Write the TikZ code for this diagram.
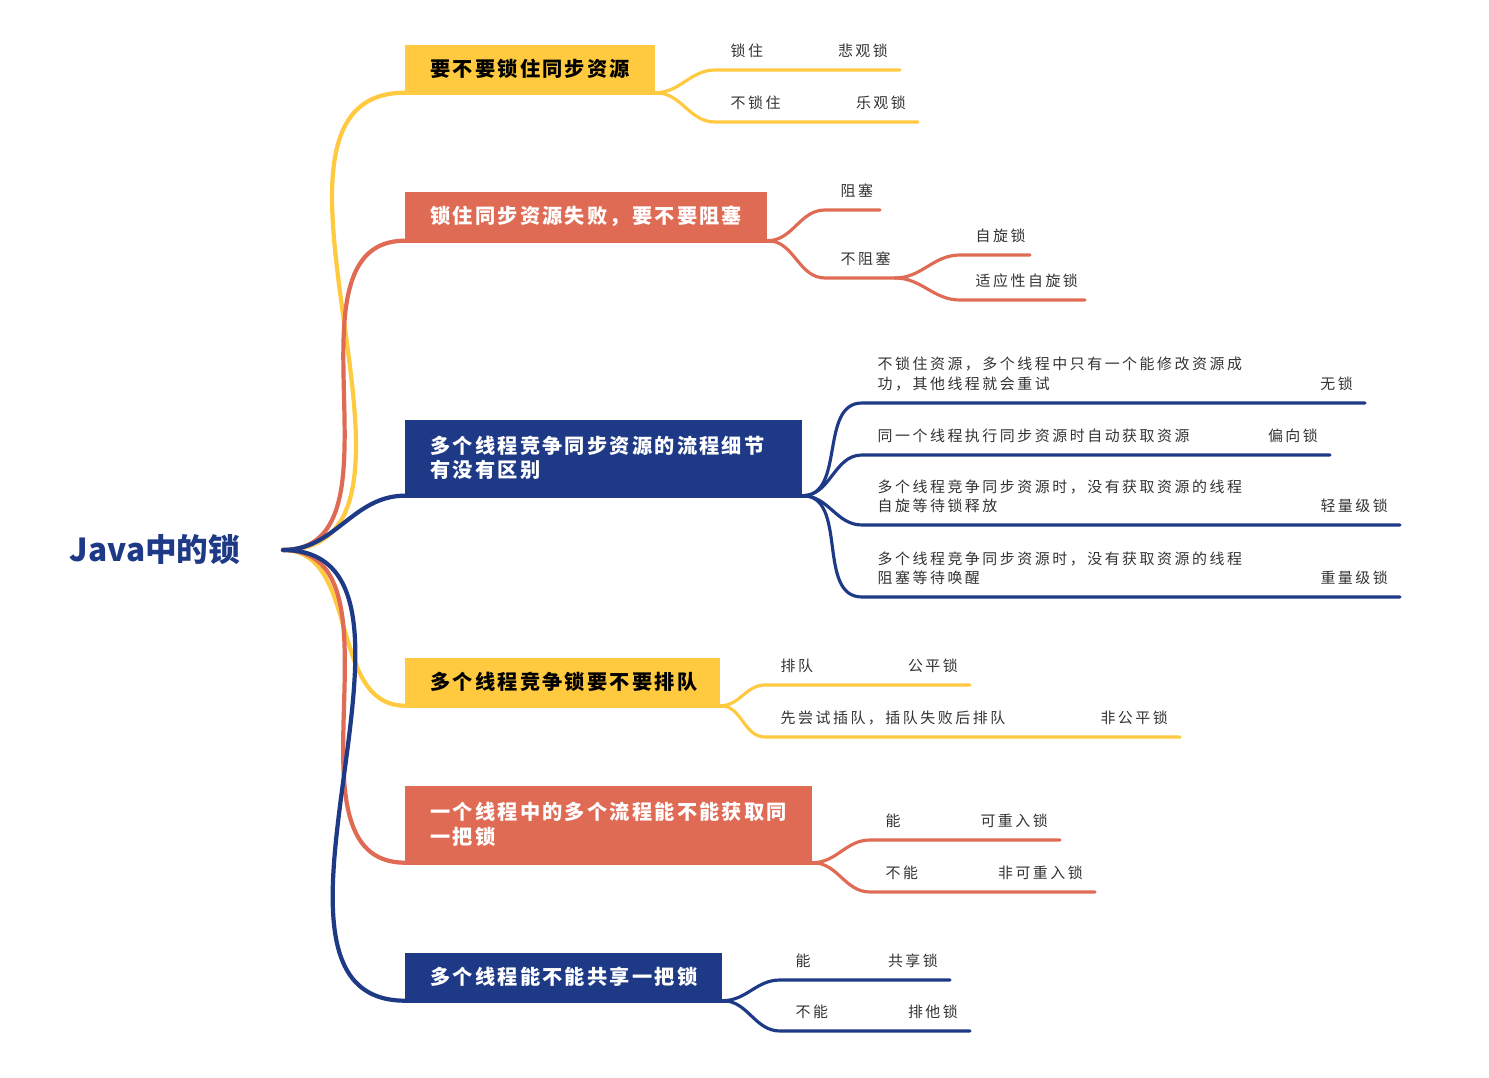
\documentclass[tikz,border=0pt]{standalone}
\usepackage{fontspec}
\setmainfont{Noto Sans CJK SC}
\newfontfamily\leaffont[LetterSpace=17]{Noto Sans CJK SC}
\newfontfamily\boxfont[LetterSpace=11]{Noto Sans CJK SC}
\usepackage{xcolor}
\usepackage{tikz}
\usetikzlibrary{positioning}

\definecolor{lockyellow}{HTML}{FFC940}
\definecolor{lockred}{HTML}{E06B55}
\definecolor{locknavy}{HTML}{1E3A86}
\definecolor{leafgray}{HTML}{333333}

\tikzset{
  branch/.style={line width=2.4pt, line cap=round},
  twig/.style={line width=1.8pt, line cap=round},
  box/.style={anchor=north west, inner xsep=0.5cm, inner ysep=0pt, align=left, font=\boxfont\bfseries\fontsize{11.5}{14}\selectfont},
  leaftxt/.style={font=\leaffont\fontsize{8.5}{11}\selectfont, text=leafgray, align=left, inner sep=2pt}
}

% #1 colour, #2 start, #3 name, #4 x start, #5 y, #6 x mid, #7 x end, #8 left text, #9 right text
\newcommand{\lockleaf}[9]{%
  \coordinate (#3a) at (#4,#5);
  \coordinate (#3b) at (#6,#5);
  \coordinate (#3c) at (#7,#5);
  \draw[twig, #1] (#2) to[out=0,in=180] (#3a)
     -- node[leaftxt, pos=0, above right, xshift=6pt, yshift=4pt] {#8} (#3b)
     -- node[leaftxt, pos=1, above left, xshift=-4pt, yshift=4pt] {#9} (#3c);
}

\begin{document}
\begin{tikzpicture}[x=0.02cm, y=-0.02cm]
  \useasboundingbox (0,0) rectangle (1489,1078);

  \node[font=\bfseries\fontsize{18}{20}\selectfont, text=locknavy] (root) at (155,550) {Java中的锁};
  \coordinate (hub) at (283,550);

  % main boxes
  \node[box, fill=lockyellow, text=black, minimum width=5cm, minimum height=0.94cm, text width=4cm] (b1) at (405,45) {要不要锁住同步资源};
  \node[box, fill=lockred, text=white, minimum width=7.24cm, minimum height=0.96cm, text width=6.24cm] (b2) at (405,192) {锁住同步资源失败，要不要阻塞};
  \node[box, fill=locknavy, text=white, minimum width=7.94cm, minimum height=1.5cm, text width=6.94cm] (b3) at (405,420) {多个线程竞争同步资源的流程细节\\有没有区别};
  \node[box, fill=lockyellow, text=black, minimum width=6.3cm, minimum height=0.94cm, text width=5.3cm] (b4) at (405,658) {多个线程竞争锁要不要排队};
  \node[box, fill=lockred, text=white, minimum width=8.14cm, minimum height=1.52cm, text width=7.14cm] (b5) at (405,786) {一个线程中的多个流程能不能获取同\\一把锁};
  \node[box, fill=locknavy, text=white, minimum width=6.34cm, minimum height=0.94cm, text width=5.34cm] (b6) at (405,953) {多个线程能不能共享一把锁};

  % underlines and branches
  \foreach \b/\c in {b1/lockyellow, b2/lockred, b3/locknavy, b4/lockyellow, b5/lockred, b6/locknavy}{
    \draw[branch, \c] (\b.south west) -- ([xshift=4pt]\b.south east);
    \draw[branch, \c] (hub) to[out=0,in=180] (\b.south west);
  }

  % group 1
  \lockleaf{lockyellow}{b1.south east}{l1}{715}{70}{840}{900}{锁住}{悲观锁}
  \lockleaf{lockyellow}{b1.south east}{l2}{715}{122}{845}{918}{不锁住}{乐观锁}

  % group 2
  \lockleaf{lockred}{b2.south east}{l3}{825}{210}{880}{880}{阻塞}{}
  \lockleaf{lockred}{b2.south east}{l4}{825}{278}{895}{895}{不阻塞}{}
  \lockleaf{lockred}{l4c}{l5}{960}{255}{1030}{1030}{自旋锁}{}
  \lockleaf{lockred}{l4c}{l6}{960}{300}{1085}{1085}{适应性自旋锁}{}

  % group 3
  \lockleaf{locknavy}{b3.south east}{l7}{862}{403}{1220}{1365}{不锁住资源，多个线程中只有一个能修改资源成\\功，其他线程就会重试}{无锁}
  \lockleaf{locknavy}{b3.south east}{l8}{862}{455}{1255}{1330}{同一个线程执行同步资源时自动获取资源}{偏向锁}
  \lockleaf{locknavy}{b3.south east}{l9}{862}{525}{1250}{1400}{多个线程竞争同步资源时，没有获取资源的线程\\自旋等待锁释放}{轻量级锁}
  \lockleaf{locknavy}{b3.south east}{l10}{862}{597}{1250}{1400}{多个线程竞争同步资源时，没有获取资源的线程\\阻塞等待唤醒}{重量级锁}

  % group 4
  \lockleaf{lockyellow}{b4.south east}{l11}{765}{685}{890}{970}{排队}{公平锁}
  \lockleaf{lockyellow}{b4.south east}{l12}{765}{737}{1030}{1180}{先尝试插队，插队失败后排队}{非公平锁}

  % group 5
  \lockleaf{lockred}{b5.south east}{l13}{870}{840}{965}{1060}{能}{可重入锁}
  \lockleaf{lockred}{b5.south east}{l14}{870}{892}{980}{1095}{不能}{非可重入锁}

  % group 6
  \lockleaf{locknavy}{b6.south east}{l15}{780}{980}{880}{950}{能}{共享锁}
  \lockleaf{locknavy}{b6.south east}{l16}{780}{1031}{890}{970}{不能}{排他锁}
\end{tikzpicture}
\end{document}
